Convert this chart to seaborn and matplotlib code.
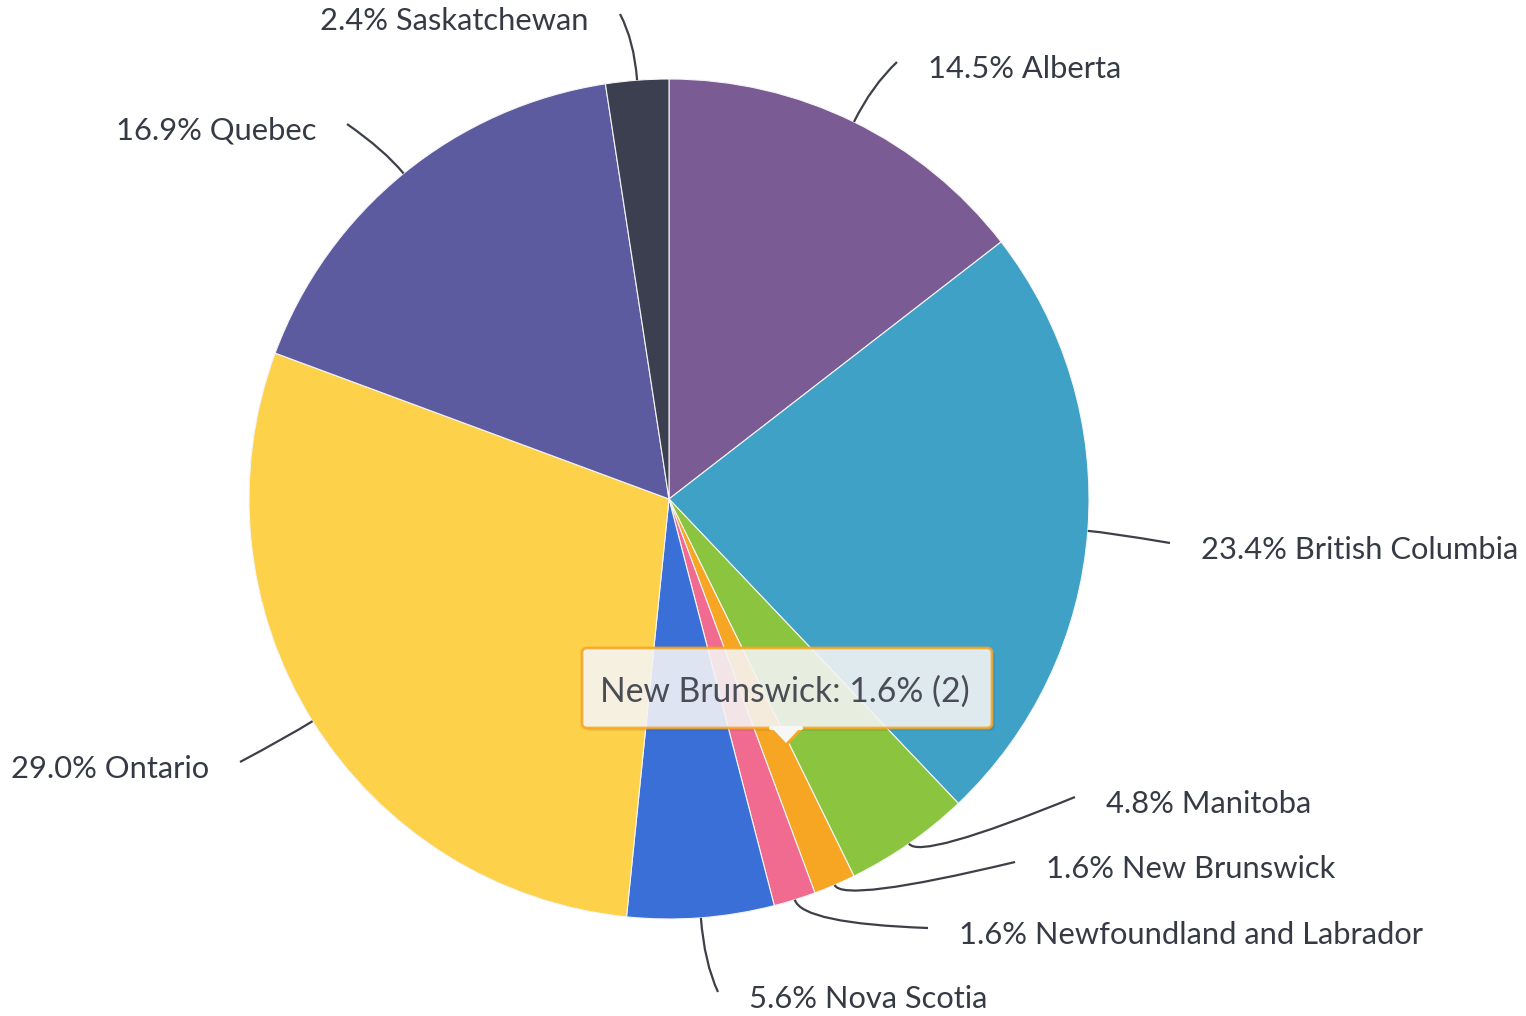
import numpy as np
import matplotlib.pyplot as plt
import seaborn as sns
from matplotlib.path import Path
from matplotlib.patches import PathPatch, FancyBboxPatch, Polygon

# 各省人数 (饼图数据)
provinces = ['Alberta', 'British Columbia', 'Manitoba', 'New Brunswick',
             'Newfoundland and Labrador', 'Nova Scotia', 'Ontario', 'Quebec',
             'Saskatchewan']
counts = [18, 29, 6, 2, 2, 7, 36, 21, 3]
colors = ['#7b5b94', '#3fa1c5', '#8bc53f', '#f6a623', '#f06b8f',
          '#3b6fd8', '#fdd24a', '#5c5b9f', '#3b3f4f']
tooltip_item = 'New Brunswick'

W, H = 1526, 1016
def py(y):
    # 像素坐标 (y 向下) -> 数据坐标
    return H - y

# 标签连接线终点 (像素坐标) 与拐点偏移
label_ends = {
    'Alberta': (897, 62),
    'British Columbia': (1170, 543),
    'Manitoba': (1075, 797),
    'New Brunswick': (1015, 862),
    'Newfoundland and Labrador': (928, 928),
    'Nova Scotia': (718, 992),
    'Ontario': (240, 762),
    'Quebec': (347, 124),
    'Saskatchewan': (620, 14),
}
bend_out = {
    'Alberta': 40, 'British Columbia': 20, 'Manitoba': 20, 'New Brunswick': 20,
    'Newfoundland and Labrador': 25, 'Nova Scotia': 45, 'Ontario': 30,
    'Quebec': 30, 'Saskatchewan': 40,
}

sns.set_theme(style='white')
plt.rcParams['font.family'] = ['Lato', 'DejaVu Sans']

fig = plt.figure(figsize=(W / 100, H / 100), dpi=100)
ax = fig.add_axes([0, 0, 1, 1])

cx, cy, r = 669, py(499), 420
wedges, _ = ax.pie(counts, colors=colors, startangle=90, counterclock=False,
                   center=(cx, cy), radius=r,
                   wedgeprops=dict(edgecolor='#f4f4f4', linewidth=0.8))
ax.set_xlim(0, W)
ax.set_ylim(0, H)
ax.axis('off')

total = sum(counts)
text_color = '#363a44'
for w, name, c in zip(wedges, provinces, counts):
    mid = np.deg2rad((w.theta1 + w.theta2) / 2)
    ex, ey = cx + r * np.cos(mid), cy + r * np.sin(mid)
    d = bend_out[name]
    bx, by = cx + (r + d) * np.cos(mid), cy + (r + d) * np.sin(mid)
    tx, ty = label_ends[name]
    ty = py(ty)
    path = Path([(ex, ey), (bx, by), (tx, ty)], [Path.MOVETO, Path.CURVE3, Path.CURVE3])
    ax.add_patch(PathPatch(path, fill=False, edgecolor='#3d4049', linewidth=1.6))
    right = tx > cx - 40 if name != 'Saskatchewan' else False
    ha = 'left' if right else 'right'
    off = 31 if right else -31
    ax.text(tx + off, ty - 7, f'{c / total * 100:.1f}% {name}', ha=ha, va='center',
            fontsize=22.2, color=text_color)

# 提示框
idx = provinces.index(tooltip_item)
val = counts[idx]
bx0, bx1, by0, by1 = 582, 992, 648, 728
ax.add_patch(FancyBboxPatch((bx0 + 3, py(by1) - 3), bx1 - bx0, by1 - by0,
                            boxstyle='round,pad=0,rounding_size=5',
                            facecolor='#000000', alpha=0.08, edgecolor='none', zorder=4))
ax.add_patch(FancyBboxPatch((bx0, py(by1)), bx1 - bx0, by1 - by0,
                            boxstyle='round,pad=0,rounding_size=5',
                            facecolor='#f7f7f7', alpha=0.88,
                            edgecolor=colors[idx], linewidth=2, zorder=5))
ax.add_patch(Polygon([(770, py(by1)), (786, py(745)), (802, py(by1))], closed=False,
                     facecolor='#f7f7f7', edgecolor=colors[idx], linewidth=2, zorder=6))
ax.plot([771, 801], [py(by1), py(by1)], color='#f7f7f7', linewidth=3, zorder=7)
ax.text(600, py(692), f'{tooltip_item}: {val / total * 100:.1f}% ({val})',
        ha='left', va='center', fontsize=24.2, color='#4a4d55', zorder=8)

fig.savefig('out.png', dpi=100, facecolor='white')
